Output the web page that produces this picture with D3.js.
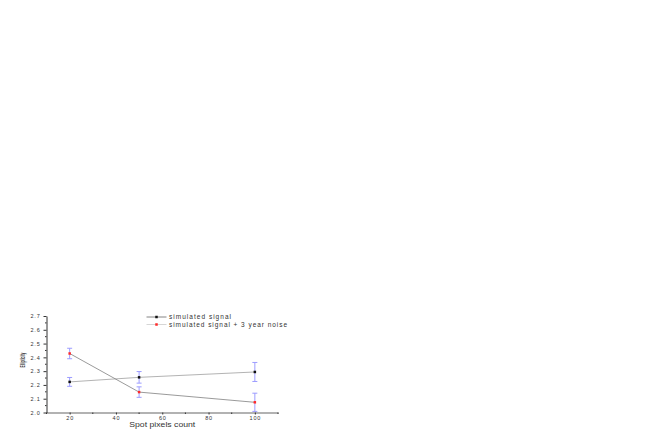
<!DOCTYPE html>
<html>
<head>
<meta charset="utf-8">
<script src="https://cdn.jsdelivr.net/npm/d3@7"></script>
<style>
  body { margin: 0; background: #fff; }
  text { font-family: Arial, "Liberation Sans", sans-serif; fill: #333; }
</style>
</head>
<body>
<div id="chart"></div>
<script>
const pixelCounts = [20, 50, 100];
const signal = [2.222, 2.255, 2.294];
const signalErr = [0.032, 0.042, 0.069];
const noisy = [2.428, 2.148, 2.074];
const noisyErr = [0.038, 0.038, 0.066];
const xTicks = [20, 40, 60, 80, 100];
const xMinorTicks = [10, 30, 50, 70, 90, 110];
const yTicks = [2.0, 2.1, 2.2, 2.3, 2.4, 2.5, 2.6, 2.7];
const legendLabels = ['simulated signal', 'simulated signal + 3 year noise'];

function draw() {
    const dimensions = { width: 654, height: 436 };

    const svg = d3.select('#chart')
        .append('svg')
        .attr('width', dimensions.width)
        .attr('height', dimensions.height);

    // Scales
    const xScale = d3.scaleLinear().domain([10, 110]).range([46.5, 278]);
    const yScale = d3.scaleLinear().domain([2.0, 2.7]).range([412.5, 316]);

    // x axis
    const xAxisGroup = svg.append('g')
        .attr('transform', `translate(0, ${yScale(2.0)})`)
        .call(d3.axisBottom(xScale).tickValues(xTicks).tickSize(2).tickSizeOuter(0).tickPadding(2));
    xAxisGroup.select('.domain').attr('stroke', '#999').attr('stroke-width', 1.5);
    xAxisGroup.selectAll('.tick line').attr('stroke', '#333');
    xAxisGroup.selectAll('.tick text')
        .style('font-size', '5.5px').style('letter-spacing', '0.8px');
    xAxisGroup.selectAll('.minor')
        .data(xMinorTicks)
        .join('line')
        .attr('class', 'minor')
        .attr('x1', d => xScale(d)).attr('x2', d => xScale(d))
        .attr('y1', 0).attr('y2', 1.5)
        .attr('stroke', '#333');

    // y axis
    const yAxisGroup = svg.append('g')
        .attr('transform', `translate(${xScale(10)}, 0)`)
        .call(d3.axisLeft(yScale).tickValues(yTicks).tickFormat(d3.format('.1f')).tickSize(3).tickSizeOuter(0).tickPadding(3));
    yAxisGroup.select('.domain').attr('stroke', '#333');
    yAxisGroup.selectAll('.tick line').attr('stroke', '#333');
    yAxisGroup.selectAll('.tick text')
        .style('font-size', '5.5px').style('letter-spacing', '0.8px');
    yAxisGroup.selectAll('.minor')
        .data(d3.range(2.05, 2.7, 0.1))
        .join('line')
        .attr('class', 'minor')
        .attr('x1', -1.5).attr('x2', 0)
        .attr('y1', d => yScale(d)).attr('y2', d => yScale(d))
        .attr('stroke', '#333');

    // Axis titles
    svg.append('text')
        .attr('x', xScale(60))
        .attr('y', 426.5)
        .attr('text-anchor', 'middle')
        .attr('textLength', 66)
        .attr('lengthAdjust', 'spacingAndGlyphs')
        .style('font-size', '7px')
        .text('Spot pixels count');

    svg.append('text')
        .attr('transform', `translate(24.5, ${yScale(2.38)}) rotate(-90)`)
        .attr('text-anchor', 'middle')
        .attr('textLength', 15)
        .attr('lengthAdjust', 'spacingAndGlyphs')
        .style('font-size', '6.5px')
        .style('font-weight', 'bold')
        .text('Ellipticity');

    const series = [
        { values: signal, errs: signalErr, line: '#a0a0a0', marker: '#111', legendLine: '#666' },
        { values: noisy, errs: noisyErr, line: '#808080', marker: '#ff2a2a', legendLine: '#ccc' }
    ];

    const lineGen = d3.line()
        .x((d, i) => xScale(pixelCounts[i]))
        .y(d => yScale(d));

    series.forEach(s => {
        svg.append('path')
            .datum(s.values)
            .attr('d', lineGen)
            .attr('fill', 'none')
            .attr('stroke', s.line)
            .attr('stroke-width', 0.8);
    });

    series.forEach(s => {
        const g = svg.append('g');
        const pts = s.values.map((v, i) => ({ x: pixelCounts[i], y: v, e: s.errs[i] }));

        g.selectAll('.err')
            .data(pts)
            .join('line')
            .attr('x1', d => xScale(d.x)).attr('x2', d => xScale(d.x))
            .attr('y1', d => yScale(d.y - d.e)).attr('y2', d => yScale(d.y + d.e))
            .attr('stroke', '#9c9cff').attr('stroke-width', 1);

        [-1, 1].forEach(sign => {
            g.selectAll(null)
                .data(pts)
                .join('line')
                .attr('x1', d => xScale(d.x) - 2.5).attr('x2', d => xScale(d.x) + 2.5)
                .attr('y1', d => yScale(d.y + sign * d.e)).attr('y2', d => yScale(d.y + sign * d.e))
                .attr('stroke', '#9c9cff').attr('stroke-width', 1);
        });

        g.selectAll('rect')
            .data(pts)
            .join('rect')
            .attr('x', d => xScale(d.x) - 1.25)
            .attr('y', d => yScale(d.y) - 1.25)
            .attr('width', 2.5).attr('height', 2.5)
            .attr('fill', s.marker);
    });

    // Legend
    const legend = svg.append('g');
    const legendWidths = [62, 118];
    legendLabels.forEach((label, i) => {
        const ly = 317 + i * 7.5;
        legend.append('line')
            .attr('x1', 146.5).attr('x2', 166.5)
            .attr('y1', ly).attr('y2', ly)
            .attr('stroke', series[i].legendLine).attr('stroke-width', 0.8);
        legend.append('rect')
            .attr('x', 155.25).attr('y', ly - 1.25)
            .attr('width', 2.5).attr('height', 2.5)
            .attr('fill', series[i].marker);
        legend.append('text')
            .attr('x', 169)
            .attr('y', ly + 2.3)
            .attr('textLength', legendWidths[i])
            .attr('lengthAdjust', 'spacing')
            .style('font-size', '6.5px')
            .text(label);
    });
}

draw();
</script>
</body>
</html>
